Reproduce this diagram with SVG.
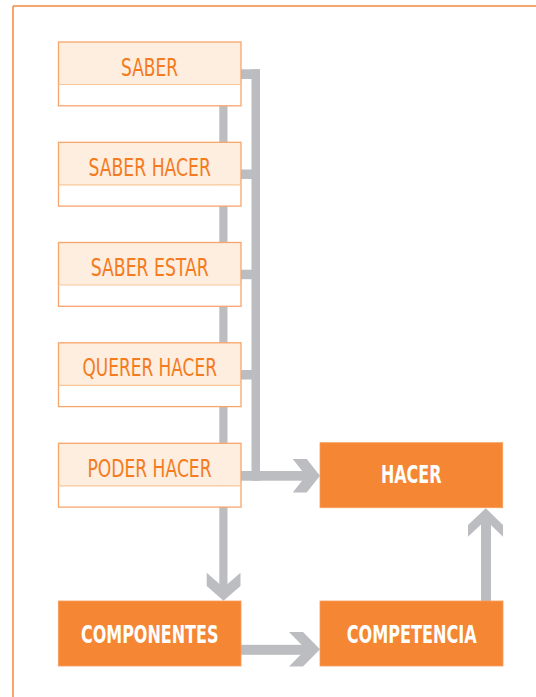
<svg xmlns="http://www.w3.org/2000/svg" width="536" height="697" viewBox="0 0 536 697">
<style>
.frame{stroke:#f58a3c;stroke-width:1.5;fill:none}
.lt{fill:#fdeee0}
.lb{fill:#ffffff}
.lo{fill:none;stroke:#f8a56b;stroke-width:1.3}
.dv{stroke:#fbc699;stroke-width:1.2}
.dk{fill:#f58634;stroke:#f79c5a;stroke-width:0.8}
.ltx{font-family:"Liberation Sans Narrow","DejaVu Sans Condensed","Liberation Sans",sans-serif;font-size:25px;fill:#f47b20;text-anchor:middle}
.dtx{font-family:"Liberation Sans Narrow","DejaVu Sans Condensed","Liberation Sans",sans-serif;font-size:24px;font-weight:bold;fill:#ffffff;text-anchor:middle}
.g{fill:#bcbdc0}
</style>
<line class="frame" x1="13" y1="6" x2="536" y2="6"/>
<line class="frame" x1="13" y1="6" x2="13" y2="697"/>
<g id="connectors">
<rect class="g" x="219.3" y="100" width="8.2" height="490"/>
<polygon class="g" points="206.7,572.7 223.5,587.4 240.5,572.7 240.5,586 223.5,600.7 206.7,586"/>
<rect class="g" x="251.5" y="69.3" width="8.5" height="411.4"/>
<rect class="g" x="236" y="69.3" width="24" height="9.7"/>
<rect class="g" x="236" y="169.5" width="20" height="9.5"/>
<rect class="g" x="236" y="269.7" width="20" height="9.5"/>
<rect class="g" x="236" y="370" width="20" height="9.5"/>
<rect class="g" x="236" y="471" width="72" height="9.7"/>
<polygon class="g" points="292.7,459 306.7,459 320,475.8 306.7,492.5 292.7,492.5 306,475.8"/>
<rect class="g" x="236" y="644.8" width="72" height="10"/>
<polygon class="g" points="289,632 303,632 320,649.3 303,666.5 289,666.5 306,649.3"/>
<rect class="g" x="481" y="520" width="10" height="85"/>
<polygon class="g" points="468,536.7 468,525 485.8,508.3 503,525 503,536.7 485.8,520"/>
</g>
<g id="saber">
<rect class="lt" x="58.5" y="42" width="182.5" height="42.5"/>
<rect class="lb" x="58.5" y="84.5" width="182.5" height="21.3"/>
<rect class="lo" x="58.5" y="42" width="182.5" height="63.8"/>
<line class="dv" x1="58.5" y1="84.5" x2="241" y2="84.5"/>
<text class="ltx" x="149.6" y="75.7" textLength="57" lengthAdjust="spacingAndGlyphs">SABER</text>
</g>
<g id="saber-hacer">
<rect class="lt" x="58.5" y="142.3" width="182.5" height="42.5"/>
<rect class="lb" x="58.5" y="184.8" width="182.5" height="21.3"/>
<rect class="lo" x="58.5" y="142.3" width="182.5" height="63.8"/>
<line class="dv" x1="58.5" y1="184.8" x2="241" y2="184.8"/>
<text class="ltx" x="149.7" y="175.8" textLength="122.5" lengthAdjust="spacingAndGlyphs">SABER HACER</text>
</g>
<g id="saber-estar">
<rect class="lt" x="58.5" y="242.5" width="182.5" height="42.5"/>
<rect class="lb" x="58.5" y="285" width="182.5" height="21.3"/>
<rect class="lo" x="58.5" y="242.5" width="182.5" height="63.8"/>
<line class="dv" x1="58.5" y1="285" x2="241" y2="285"/>
<text class="ltx" x="149.7" y="275.5" textLength="118" lengthAdjust="spacingAndGlyphs">SABER ESTAR</text>
</g>
<g id="querer-hacer">
<rect class="lt" x="58.5" y="342.8" width="182.5" height="42.5"/>
<rect class="lb" x="58.5" y="385.3" width="182.5" height="21.3"/>
<rect class="lo" x="58.5" y="342.8" width="182.5" height="63.8"/>
<line class="dv" x1="58.5" y1="385.3" x2="241" y2="385.3"/>
<text class="ltx" x="149.7" y="376" textLength="134.5" lengthAdjust="spacingAndGlyphs">QUERER HACER</text>
</g>
<g id="poder-hacer">
<rect class="lt" x="58.5" y="443.3" width="182.5" height="42.5"/>
<rect class="lb" x="58.5" y="485.8" width="182.5" height="21.3"/>
<rect class="lo" x="58.5" y="443.3" width="182.5" height="63.8"/>
<line class="dv" x1="58.5" y1="485.8" x2="241" y2="485.8"/>
<text class="ltx" x="149.5" y="476.7" textLength="124.2" lengthAdjust="spacingAndGlyphs">PODER HACER</text>
</g>
<g id="hacer">
<rect class="dk" x="320" y="442.7" width="182.7" height="65"/>
<text class="dtx" x="411.2" y="483.3" textLength="60.5" lengthAdjust="spacingAndGlyphs">HACER</text>
</g>
<g id="componentes">
<rect class="dk" x="58.3" y="601" width="182.7" height="65"/>
<text class="dtx" x="149.7" y="642.7" textLength="137.5" lengthAdjust="spacingAndGlyphs">COMPONENTES</text>
</g>
<g id="competencia">
<rect class="dk" x="320" y="601" width="183" height="65"/>
<text class="dtx" x="411.8" y="642.5" textLength="130" lengthAdjust="spacingAndGlyphs">COMPETENCIA</text>
</g>
</svg>
